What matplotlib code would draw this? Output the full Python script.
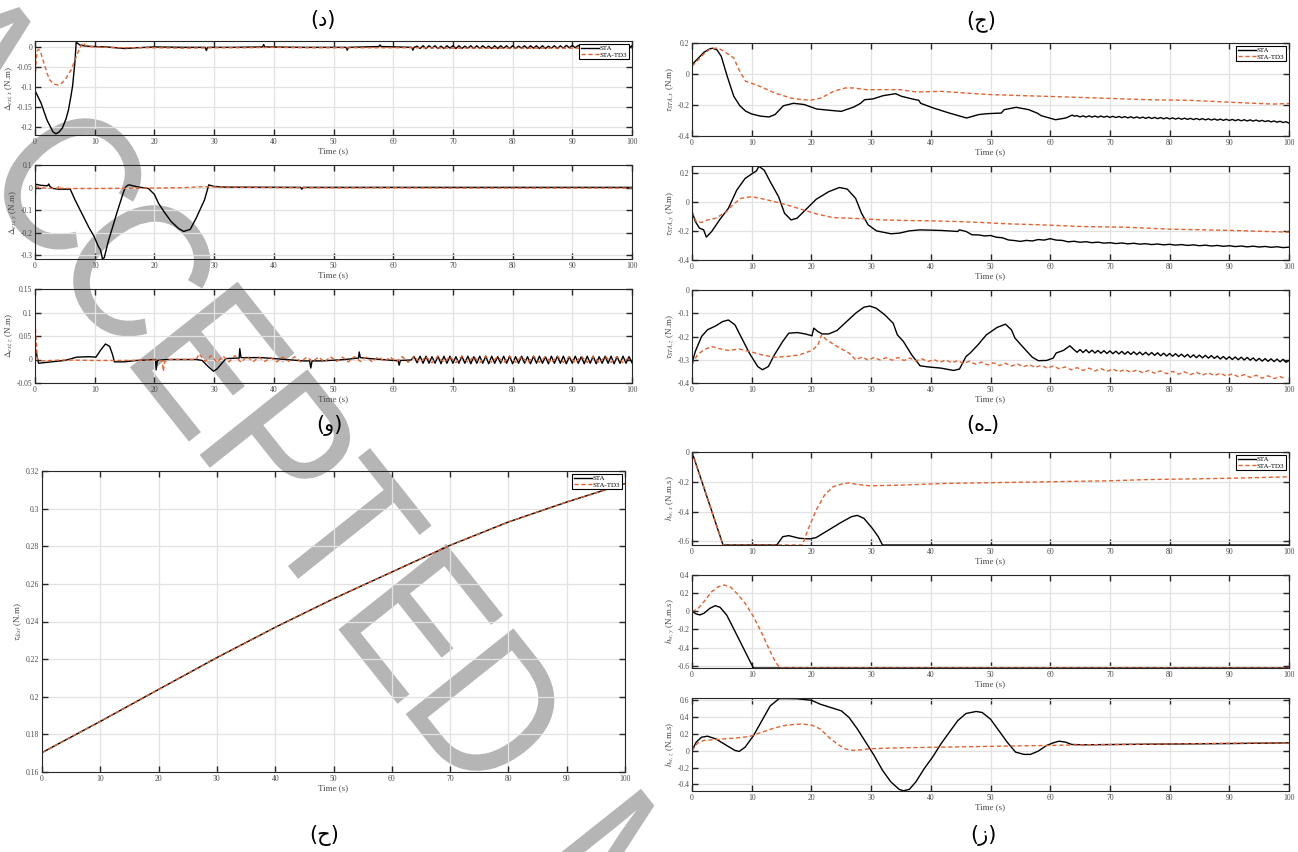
import numpy as np
import matplotlib
matplotlib.use('Agg')
import matplotlib.pyplot as plt
from matplotlib.textpath import TextPath
from matplotlib.patches import PathPatch
from matplotlib.font_manager import FontProperties
from matplotlib.transforms import Affine2D

# === Colors ===
STA_COLOR = '#000000'
TD3_COLOR = '#E8602C'
GRID_GREY = '#e2e2e2'
AXIS_DARK = '#262626'
TICK_TXT = '#4a4a4a'
WM_GREY = '#b5b5b5'

plt.rcParams.update({
    'font.family': ['Liberation Serif', 'DejaVu Serif'],
    'mathtext.fontset': 'stix',
    'axes.unicode_minus': False,
    'font.size': 5.5,
})

W, H = 1298, 852
TIME_TICKS = list(range(0, 101, 10))

# ---------------- external disturbance estimates ----------------
dx_sta_t = [0, 1, 2, 3, 3.5, 4, 4.6, 5.2, 5.6, 6, 6.3, 6.7, 6.9, 7.5, 8.5, 10, 12, 15, 17, 20,
            25, 28.5, 28.7, 28.9, 33, 38.1, 38.3, 38.5, 45, 52.1, 52.3, 52.5, 57.6, 57.8, 58,
            63.1, 63.3, 63.5]
dx_sta = [-0.109, -0.14, -0.183, -0.213, -0.218, -0.214, -0.203, -0.18, -0.158, -0.125,
          -0.097, -0.035, 0.013, 0.006, 0.003, 0.002, 0.001, -0.003, -0.001, 0.001,
          0.0, 0.0, -0.008, 0.0, 0.0, 0.001, 0.007, 0.001, 0.0, 0.0,
          -0.007, 0.0, 0.002, 0.006, 0.002, 0.0, -0.007, 0.0]
dx_sta_tail_t = np.arange(64, 100.01, 0.5)
dx_sta_tail = [0.003, -0.003, 0.004, -0.003, 0.004, -0.002, 0.004, -0.003, 0.003, -0.003, 0.004, -0.002,
               0.004, -0.003, 0.004, -0.003, 0.003, -0.002, 0.004, -0.003, 0.004, -0.003, 0.004, -0.002,
               0.003, -0.003, 0.004, -0.003, 0.004, -0.002, 0.004, -0.003, 0.004, -0.003, 0.003, -0.002,
               0.004, -0.003, 0.004, -0.002, 0.004, -0.003, 0.004, -0.003, 0.003, -0.002, 0.004, -0.003,
               0.004, -0.002, 0.005, -0.001, 0.005, -0.001, 0.005, -0.001, 0.005, -0.001, 0.005, -0.001,
               0.005, -0.001, 0.005, -0.001, 0.005, -0.001, 0.005, -0.001, 0.005, -0.001, 0.005, -0.001,
               0.004]
dx_td3_t = [0, 0.3, 0.6, 1, 1.5, 2, 2.5, 3.2, 3.9, 4.5, 5.2, 6, 6.5, 7, 7.5, 8, 8.5, 9,
            12, 15, 20, 25, 30, 35, 40, 45, 50, 55, 60, 65, 70, 75, 80, 85, 90, 95, 100]
dx_td3 = [-0.08, -0.01, -0.005, -0.015, -0.04, -0.065, -0.083, -0.093, -0.095, -0.09,
          -0.078, -0.058, -0.04, -0.02, -0.002, 0.012, 0.004, 0.002,
          0.0, -0.001, -0.001, -0.002, -0.001, -0.001, 0.0, -0.001, -0.001, -0.001,
          -0.001, -0.001, -0.002, -0.002, -0.002, -0.002, -0.002, -0.002, -0.002]

dy_sta_t = [0, 0.1, 1, 2.1, 2.3, 2.5, 3, 4, 5.9, 6.7, 8.1, 9.1, 9.9, 10.6, 10.95, 11.1, 11.3,
            11.6, 12.3, 13, 13.7, 14.7, 15.1, 15.5, 15.8, 17, 19, 20, 20.7, 21.7, 22.8, 24,
            24.9, 26, 27, 28.4, 29.1, 30, 32, 44.5, 44.7, 44.9, 60, 80, 100]
dy_sta = [-0.1, 0.015, 0.01, 0.008, 0.016, 0.005, -0.004, -0.007, -0.007, -0.054,
          -0.128, -0.18, -0.216, -0.26, -0.275, -0.29, -0.316, -0.31, -0.235, -0.175,
          -0.113, -0.03, 0.0, 0.01, 0.012, 0.004, -0.004, -0.03, -0.07, -0.11,
          -0.15, -0.18, -0.194, -0.185, -0.135, -0.054, 0.012, 0.005, 0.002, 0.001,
          -0.007, 0.001, 0.001, 0.001, 0.001]
dy_td3_t = [0, 1, 2, 3.8, 4.0, 4.2, 6, 10, 15, 20, 25, 28, 30, 40, 50, 60, 70, 80, 90, 100]
dy_td3 = [0.004, 0.0, -0.003, -0.003, 0.008, -0.003, -0.004, -0.004, -0.003, -0.002,
          0.0, 0.004, 0.003, 0.0, -0.001, -0.001, -0.002, -0.002, -0.002, -0.002]

dz_sta_t = [0, 0.6, 2, 5, 7, 9, 10.2, 11, 11.8, 12.5, 13, 13.3, 15, 17, 19, 20, 20.2, 20.3,
            20.5, 22, 27, 28, 29, 29.9, 30.5, 31.3, 32, 34, 34.2, 34.3, 34.5, 38, 42, 45,
            46.0, 46.2, 46.4, 48, 52, 54, 54.2, 54.3, 54.5, 56, 58, 60, 60.8, 61.0, 61.2, 63]
dz_sta = [0.027, -0.008, -0.006, -0.002, 0.005, 0.006, 0.005, 0.02, 0.033, 0.028,
          0.01, -0.005, -0.005, -0.002, -0.001, 0.0, 0.0, -0.022, -0.002, 0.0,
          0.0, -0.002, -0.015, -0.025, -0.02, -0.008, 0.002, 0.003, 0.003, 0.023,
          0.004, 0.004, 0.0, -0.003, -0.003, -0.018, -0.003, -0.003, 0.0, 0.003,
          0.003, 0.016, 0.004, 0.002, 0.0, -0.002, -0.002, -0.012, -0.002, -0.001]
dz_sta_tail_t = np.arange(63.5, 100.01, 0.5)
dz_sta_tail = [0.006, -0.007, 0.007, -0.008, 0.007, -0.008, 0.006, -0.008, 0.007, -0.009, 0.007, -0.008,
               0.007, -0.008, 0.006, -0.008, 0.007, -0.008, 0.007, -0.009, 0.006, -0.008, 0.007, -0.008,
               0.007, -0.009, 0.007, -0.008, 0.006, -0.008, 0.007, -0.008, 0.007, -0.009, 0.006, -0.008,
               0.007, -0.008, 0.006, -0.009, 0.007, -0.008, 0.007, -0.008, 0.006, -0.009, 0.007, -0.008,
               0.007, -0.008, 0.007, -0.009, 0.006, -0.008, 0.007, -0.008, 0.006, -0.009, 0.007, -0.008,
               0.007, -0.009, 0.006, -0.008, 0.007, -0.008, 0.007, -0.009, 0.006, -0.008, 0.007, -0.008,
               0.006, -0.007]
dz_td3_t = [0, 0.4, 0.8, 5, 10, 15, 20, 21.3, 21.5, 21.7, 22.5, 27]
dz_td3 = [0.08, 0.0, -0.003, -0.001, -0.002, -0.002, -0.001, -0.003, -0.025, -0.005, 0.0, 0.0]
dz_td3_tail_t = np.arange(27.5, 100, 1.0)
dz_td3_tail = [0.012, -0.004, 0.008, -0.006, 0.007, -0.005, 0.008, -0.006, 0.006, -0.005,
               0.005, -0.004, 0.004, -0.005, 0.005, -0.004, 0.006, -0.005, 0.005, -0.004,
               0.005, -0.005, 0.006, -0.004, 0.005, -0.005, 0.006, -0.004, 0.005, -0.005,
               0.006, -0.004, 0.005, -0.005, 0.006, -0.006, 0.007, -0.006, 0.006, -0.007,
               0.007, -0.006, 0.006, -0.007, 0.007, -0.006, 0.006, -0.007, 0.007, -0.006,
               0.006, -0.007, 0.007, -0.006, 0.006, -0.007, 0.007, -0.006, 0.006, -0.007,
               0.007, -0.006, 0.006, -0.007, 0.007, -0.006, 0.006, -0.007, 0.007, -0.006,
               0.006, -0.007, 0.005]

# ---------------- control torques ----------------
tx_sta_t = [0, 1, 2, 3, 3.5, 4.2, 4.9, 5.9, 7, 8, 9, 10, 11.5, 12.9, 13.9, 15.3, 17, 18.8,
            20.9, 23, 25, 27.1, 28.2, 28.9, 30.3, 32, 34.1, 35.1, 36.9, 38, 38.3, 40.4, 43.1,
            46, 48, 49.4, 51.8, 52.3, 54.3, 56.4, 57.8, 58.5, 60.9, 62.6, 63.7, 64]
tx_sta = [0.06, 0.1, 0.14, 0.163, 0.166, 0.155, 0.114, -0.015, -0.144, -0.204,
          -0.24, -0.258, -0.272, -0.277, -0.262, -0.205, -0.189, -0.197, -0.226, -0.234,
          -0.241, -0.213, -0.19, -0.166, -0.161, -0.14, -0.127, -0.144, -0.161, -0.17,
          -0.189, -0.219, -0.252, -0.284, -0.262, -0.256, -0.252, -0.23, -0.215, -0.23,
          -0.252, -0.269, -0.295, -0.284, -0.265, -0.272]
tx_sta_tail_t = np.arange(64.5, 100.01, 0.5)
tx_sta_tail = [-0.269, -0.277, -0.270, -0.278, -0.270, -0.278, -0.271, -0.279, -0.271, -0.279, -0.272, -0.280,
               -0.273, -0.281, -0.274, -0.282, -0.275, -0.283, -0.276, -0.284, -0.277, -0.285, -0.278, -0.286,
               -0.279, -0.287, -0.280, -0.288, -0.281, -0.289, -0.282, -0.290, -0.283, -0.291, -0.284, -0.292,
               -0.285, -0.293, -0.286, -0.294, -0.287, -0.295, -0.288, -0.296, -0.289, -0.297, -0.290, -0.298,
               -0.291, -0.299, -0.292, -0.300, -0.293, -0.301, -0.294, -0.302, -0.295, -0.303, -0.296, -0.304,
               -0.297, -0.305, -0.299, -0.307, -0.301, -0.309, -0.303, -0.311, -0.305, -0.313, -0.308, -0.317]
tx_td3_t = [0, 1, 2, 3, 4.2, 5, 6, 7, 8, 9, 11.1, 13.9, 16.7, 19.8, 21.6, 23.7, 25.7, 27.1,
            29.2, 32, 34.8, 37.6, 41.8, 47.3, 50.1, 55.7, 62.6, 69.6, 76.5, 83.5, 90.5, 97.4, 100]
tx_td3 = [0.05, 0.09, 0.13, 0.16, 0.168, 0.155, 0.13, 0.103, 0.017, -0.047,
          -0.075, -0.123, -0.157, -0.17, -0.155, -0.112, -0.09, -0.09, -0.101, -0.101,
          -0.101, -0.116, -0.112, -0.127, -0.133, -0.14, -0.148, -0.157, -0.166, -0.17,
          -0.183, -0.194, -0.19]

ty_sta_t = [0, 0.56, 1.25, 1.95, 2.4, 3.3, 4.7, 6.1, 7.5, 8.9, 10.3, 10.8, 11.2, 12.1, 13.1,
            14.5, 15.5, 16.6, 17.6, 19, 20.8, 22.9, 24.7, 26, 27.4, 28.4, 29.5, 30.9, 33.3,
            34.7, 36.4, 38.2, 41.7, 44.5, 44.8, 45.9, 46.9]
ty_sta = [-0.064, -0.133, -0.179, -0.191, -0.241, -0.202, -0.117, -0.041, 0.085, 0.166,
          0.205, 0.218, 0.25, 0.223, 0.143, 0.039, -0.076, -0.122, -0.11, -0.053,
          0.021, 0.074, 0.103, 0.092, 0.028, -0.076, -0.156, -0.198, -0.218, -0.214,
          -0.198, -0.191, -0.195, -0.202, -0.191, -0.202, -0.225]
ty_sta_tail_t = np.arange(48, 100.01, 1.0)
ty_sta_tail = [-0.226, -0.233, -0.230, -0.242, -0.246, -0.261, -0.265, -0.271, -0.264, -0.268,
               -0.258, -0.262, -0.252, -0.262, -0.264, -0.274, -0.270, -0.277, -0.273, -0.280,
               -0.276, -0.283, -0.280, -0.286, -0.282, -0.288, -0.284, -0.290, -0.287, -0.293,
               -0.289, -0.295, -0.291, -0.297, -0.293, -0.299, -0.295, -0.301, -0.297, -0.303,
               -0.299, -0.305, -0.301, -0.307, -0.303, -0.309, -0.304, -0.310, -0.306, -0.312,
               -0.308, -0.314, -0.311]
ty_td3_t = [0, 0.7, 1.6, 2.6, 4, 5.8, 6.8, 8.2, 10, 11.4, 13.8, 15.9, 18.7, 20.8, 23.6, 26.3,
            29.1, 31.9, 36.1, 40.3, 44.5, 48.6, 52.8, 58.4, 65.4, 72.3, 80, 90.5, 100]
ty_td3 = [-0.064, -0.133, -0.14, -0.122, -0.11, -0.064, -0.018, 0.028, 0.039, 0.028,
          0.005, -0.018, -0.053, -0.08, -0.106, -0.11, -0.115, -0.122, -0.126, -0.129,
          -0.133, -0.14, -0.149, -0.156, -0.168, -0.172, -0.186, -0.195, -0.207]

tz_sta_t = [0, 0.56, 1.6, 2.6, 4, 5.1, 6.1, 7.2, 8.2, 9.6, 11, 11.8, 12.8, 13.8, 15.2, 16.2,
            17.6, 19, 20.1, 20.4, 21.1, 21.8, 22.9, 24.3, 25.6, 27.4, 28.8, 29.8, 30.9, 32.3,
            33.7, 34.4, 35.4, 36.8, 38.2, 39.6, 41.7, 43.8, 44.8, 45.9, 46.6, 47.9, 49.3,
            51.1, 52.5, 53.5, 54.1, 55.6, 57, 58, 59.4, 60.5, 61, 62.2, 63.3]
tz_sta = [-0.314, -0.264, -0.2, -0.171, -0.154, -0.136, -0.129, -0.15, -0.2, -0.271,
          -0.329, -0.343, -0.329, -0.279, -0.221, -0.186, -0.183, -0.189, -0.197, -0.164,
          -0.179, -0.189, -0.189, -0.174, -0.143, -0.1, -0.074, -0.069, -0.079, -0.107,
          -0.143, -0.193, -0.221, -0.279, -0.326, -0.331, -0.336, -0.346, -0.34, -0.286,
          -0.271, -0.236, -0.193, -0.161, -0.147, -0.171, -0.207, -0.25, -0.289, -0.304,
          -0.303, -0.293, -0.271, -0.26, -0.24]
tz_sta_tail_t = np.arange(64, 100.01, 0.5)
tz_sta_tail = [-0.257, -0.268, -0.256, -0.269, -0.257, -0.270, -0.259, -0.271, -0.260, -0.272, -0.261, -0.273,
               -0.262, -0.274, -0.263, -0.275, -0.264, -0.276, -0.265, -0.277, -0.266, -0.278, -0.267, -0.279,
               -0.268, -0.280, -0.269, -0.281, -0.270, -0.283, -0.272, -0.284, -0.273, -0.285, -0.274, -0.286,
               -0.276, -0.288, -0.277, -0.290, -0.279, -0.291, -0.280, -0.292, -0.281, -0.293, -0.282, -0.294,
               -0.284, -0.297, -0.286, -0.298, -0.287, -0.299, -0.288, -0.300, -0.289, -0.301, -0.290, -0.302,
               -0.292, -0.305, -0.294, -0.306, -0.295, -0.307, -0.296, -0.308, -0.297, -0.309, -0.298, -0.311,
               -0.303]
tz_td3_t = [0, 0.9, 2, 3.3, 4.7, 6.1, 7.9, 9.6, 11.7, 13.8, 15.9, 18, 20.1, 21.1, 21.7, 22.5,
            24.3, 26.3, 27.4]
tz_td3 = [-0.321, -0.279, -0.257, -0.243, -0.253, -0.26, -0.254, -0.264, -0.279, -0.289,
          -0.286, -0.279, -0.26, -0.236, -0.193, -0.214, -0.243, -0.271, -0.3]
tz_td3_tail_t = np.arange(28.5, 100, 1.0)
tz_td3_tail = [-0.288, -0.302, -0.290, -0.301, -0.291, -0.302, -0.290, -0.303, -0.293, -0.305,
               -0.296, -0.308, -0.299, -0.311, -0.301, -0.313, -0.304, -0.316, -0.306, -0.319,
               -0.310, -0.322, -0.313, -0.325, -0.315, -0.327, -0.318, -0.330, -0.321, -0.333,
               -0.324, -0.336, -0.327, -0.339, -0.331, -0.343, -0.334, -0.346, -0.336, -0.348,
               -0.338, -0.350, -0.340, -0.352, -0.342, -0.354, -0.344, -0.356, -0.346, -0.358,
               -0.348, -0.360, -0.350, -0.362, -0.352, -0.364, -0.354, -0.366, -0.356, -0.368,
               -0.358, -0.370, -0.361, -0.373, -0.364, -0.376, -0.367, -0.379, -0.369, -0.381,
               -0.372, -0.384]

# ---------------- disturbance torque ----------------
dist_t = [0, 10, 20, 30, 40, 50, 60, 70, 80, 90, 100]
dist_sta = [0.1703, 0.1869, 0.2039, 0.2208, 0.2369, 0.2521, 0.2663, 0.2805, 0.2929, 0.3035, 0.3133]
dist_td3 = [0.1703, 0.1869, 0.2039, 0.2208, 0.2369, 0.2521, 0.2663, 0.2805, 0.2929, 0.3035, 0.3133]

# ---------------- wheel momentum ----------------
hx_sta_t = [0, 5.2, 14.2, 15.2, 16.2, 18, 19.7, 20.8, 22.9, 24.9, 26.7, 27.7, 28.8, 30.2,
            31.2, 31.9, 100]
hx_sta = [0, -0.625, -0.625, -0.569, -0.562, -0.58, -0.584, -0.575, -0.524, -0.475,
          -0.435, -0.426, -0.446, -0.513, -0.569, -0.625, -0.625]
hx_td3_t = [0, 5.2, 18.5, 19.4, 20.8, 22.2, 23.6, 25, 26.3, 27.7, 29.8, 34.7, 41.7, 48.6,
            55.6, 62.6, 69.5, 76.5, 83.5, 90.5, 100]
hx_td3 = [0, -0.625, -0.625, -0.524, -0.39, -0.29, -0.234, -0.216, -0.207, -0.218,
          -0.227, -0.223, -0.212, -0.207, -0.203, -0.198, -0.194, -0.185, -0.181, -0.176, -0.167]

hy_sta_t = [0, 0.7, 1.3, 2, 3, 3.9, 4.7, 5.8, 6.8, 8.2, 9.6, 10.3, 100]
hy_sta = [0, -0.029, -0.04, -0.022, 0.033, 0.062, 0.044, -0.04, -0.169, -0.352, -0.536, -0.625, -0.625]
hy_td3_t = [0, 0.9, 2, 3.3, 4.4, 5.4, 6.5, 7.5, 8.9, 10.3, 11.7, 13.1, 14.1, 14.8, 100]
hy_td3 = [0, 0.022, 0.106, 0.216, 0.27, 0.29, 0.264, 0.198, 0.088, -0.059, -0.242, -0.444,
          -0.572, -0.625, -0.625]

hz_sta_t = [0, 0.7, 1.6, 2.6, 4, 5.8, 7.2, 7.9, 8.9, 10.3, 11.7, 13.1, 14.6, 16, 17.6, 20,
            21.5, 23.6, 25, 26.3, 27.7, 29.1, 30.5, 31.9, 33.3, 34.7, 35.4, 36.4, 37.5, 38.9,
            40.3, 41.7, 43.1, 44.5, 45.9, 47.6, 48.6, 50, 51.4, 52.8, 54.2, 55.6, 56.7, 58,
            59.4, 60.5, 61.5, 62.6, 63.6, 65.4, 76.5, 90.5, 100]
hz_sta = [0, 0.102, 0.161, 0.173, 0.141, 0.063, 0.004, -0.008, 0.043, 0.18,
          0.357, 0.533, 0.62, 0.62, 0.618, 0.6, 0.553, 0.506, 0.475, 0.396,
          0.259, 0.102, -0.055, -0.231, -0.369, -0.459, -0.475, -0.459, -0.369, -0.212,
          -0.075, 0.082, 0.22, 0.357, 0.443, 0.467, 0.455, 0.376, 0.239, 0.102,
          -0.016, -0.043, -0.043, -0.004, 0.063, 0.094, 0.114, 0.102, 0.075, 0.071,
          0.078, 0.086, 0.094]
hz_td3_t = [0, 0.9, 2, 3.3, 5.4, 7.5, 9.6, 11.7, 13.8, 15.9, 18.3, 20, 21.5, 22.9, 24.3,
            25.6, 27, 28.4, 29.8, 34.7, 41.7, 48.6, 55.6, 59.8, 65.4, 76.5, 90.5, 100]
hz_td3 = [0, 0.09, 0.122, 0.129, 0.141, 0.153, 0.169, 0.22, 0.271, 0.306,
          0.318, 0.306, 0.259, 0.161, 0.082, 0.024, 0.004, 0.012, 0.024, 0.035,
          0.043, 0.051, 0.059, 0.063, 0.071, 0.078, 0.09, 0.094]


fig = plt.figure(figsize=(W / 100, H / 100), dpi=100, facecolor='white')


def panel(box, ylim, yticks, ylabel):
    l, t, r, b = box
    ax = fig.add_axes([l / W, 1 - b / H, (r - l) / W, (b - t) / H])
    ax.set_facecolor('none')   # let the watermark show under the curves
    ax.set_xlim(0, 100)
    ax.set_ylim(*ylim)
    ax.set_xticks(TIME_TICKS)
    ax.set_yticks(yticks)
    ax.set_yticklabels([f'{v:g}' for v in yticks])
    ax.grid(True, color=GRID_GREY, lw=0.9)
    ax.set_axisbelow(True)
    ax.tick_params(direction='in', top=True, right=True, length=4, width=1.0,
                   color=AXIS_DARK, labelsize=5.5, labelcolor=TICK_TXT, pad=2)
    for s in ax.spines.values():
        s.set_color(AXIS_DARK)
        s.set_linewidth(0.8)
    ax.set_xlabel('Time (s)', fontsize=6.5, color=TICK_TXT, labelpad=1)
    ax.set_ylabel(ylabel, fontsize=6.5, color=TICK_TXT, labelpad=1)
    return ax


def draw(ax, t_sta, y_sta, t_td3, y_td3, legend=False):
    ax.plot(t_sta, y_sta, color=STA_COLOR, lw=1.0, label='STA')
    ax.plot(t_td3, y_td3, color=TD3_COLOR, lw=1.0, ls=(0, (3, 2)), label='STA-TD3')
    if legend:
        leg = ax.legend(loc='upper right', fontsize=5, frameon=True, fancybox=False,
                        edgecolor='black', framealpha=1, borderpad=0.25, handlelength=2.6,
                        handletextpad=0.2, labelspacing=0.05, borderaxespad=0.4)
        leg.get_frame().set_linewidth(0.8)


# Left column: disturbance estimates
ax = panel((35, 41, 632, 135), (-0.221, 0.016), [-0.2, -0.15, -0.1, -0.05, 0], r'$\Delta_{ext,x}$ (N.m)')
draw(ax, dx_sta_t + list(dx_sta_tail_t), dx_sta + dx_sta_tail, dx_td3_t, dx_td3, legend=True)

ax = panel((35, 165, 632, 259), (-0.316, 0.1), [-0.3, -0.2, -0.1, 0, 0.1], r'$\Delta_{ext,y}$ (N.m)')
draw(ax, dy_sta_t, dy_sta, dy_td3_t, dy_td3)

ax = panel((35, 289, 632, 383), (-0.05, 0.15), [-0.05, 0, 0.05, 0.1, 0.15], r'$\Delta_{ext,z}$ (N.m)')
draw(ax, dz_sta_t + list(dz_sta_tail_t), dz_sta + dz_sta_tail,
     dz_td3_t + list(dz_td3_tail_t), dz_td3 + dz_td3_tail)

# Right column: control torques
ax = panel((692, 43, 1289, 136), (-0.4, 0.2), [-0.4, -0.2, 0, 0.2], r'$\tau_{STA,x}$ (N.m)')
draw(ax, tx_sta_t + list(tx_sta_tail_t), tx_sta + tx_sta_tail, tx_td3_t, tx_td3, legend=True)

ax = panel((692, 166, 1289, 260), (-0.4, 0.252), [-0.4, -0.2, 0, 0.2], r'$\tau_{STA,y}$ (N.m)')
draw(ax, ty_sta_t + list(ty_sta_tail_t), ty_sta + ty_sta_tail, ty_td3_t, ty_td3)

ax = panel((692, 290, 1289, 383), (-0.4, 0), [-0.4, -0.3, -0.2, -0.1, 0], r'$\tau_{STA,z}$ (N.m)')
draw(ax, tz_sta_t + list(tz_sta_tail_t), tz_sta + tz_sta_tail,
     tz_td3_t + list(tz_td3_tail_t), tz_td3 + tz_td3_tail)

# Disturbance torque
ax = panel((42, 471, 625, 772), (0.16, 0.32),
           [0.16, 0.18, 0.2, 0.22, 0.24, 0.26, 0.28, 0.3, 0.32], r'$\tau_{dist}$ (N.m)')
draw(ax, dist_t, dist_sta, dist_t, dist_td3, legend=True)

# Wheel momentum
ax = panel((692, 452, 1289, 545), (-0.625, 0), [-0.6, -0.4, -0.2, 0], r'$h_{w,x}$ (N.m.s)')
draw(ax, hx_sta_t, hx_sta, hx_td3_t, hx_td3, legend=True)

ax = panel((692, 575, 1289, 668), (-0.625, 0.4), [-0.6, -0.4, -0.2, 0, 0.2, 0.4], r'$h_{w,y}$ (N.m.s)')
draw(ax, hy_sta_t, hy_sta, hy_td3_t, hy_td3)

ax = panel((692, 698, 1289, 791), (-0.478, 0.627), [-0.4, -0.2, 0, 0.2, 0.4, 0.6], r'$h_{w,z}$ (N.m.s)')
draw(ax, hz_sta_t, hz_sta, hz_td3_t, hz_td3)

# Panel captions
captions = [('(د)', 323, 20), ('(ج)', 981, 21), ('(و)', 329, 425),
            ('(هـ)', 983, 425), ('(ح)', 324, 836), ('(ز)', 983, 835)]
for txt, px, py in captions:
    fig.text(px / W, 1 - py / H, txt, ha='center', va='center', fontsize=15,
             family='DejaVu Sans', color='black')

# Diagonal watermark, one glyph at a time along a rotated baseline,
# drawn beneath the (transparent) axes
wm_font = FontProperties(family='Liberation Sans')
wm_letters = ['A', 'C', 'C', 'E', 'P', 'T', 'E', 'D', 'M']
wm_offsets = [-32, 122, 233, 354, 466, 577, 689, 797, 1002]
ang = -51.5
ux, uy = np.cos(np.deg2rad(ang)), np.sin(np.deg2rad(ang))
vx, vy = -uy, ux
base = -127
for ch, off in zip(wm_letters, wm_offsets):
    x0 = off * ux + base * vx
    y0 = H + off * uy + base * vy
    tp = TextPath((0, 0), ch, size=1, prop=wm_font)
    tr = Affine2D().scale(175, 200).rotate_deg(ang).translate(x0, y0)
    fig.add_artist(PathPatch(tp, transform=tr, facecolor=WM_GREY, edgecolor='none',
                             zorder=-5))

plt.savefig('out.png', dpi=100, facecolor='white')
plt.close()
